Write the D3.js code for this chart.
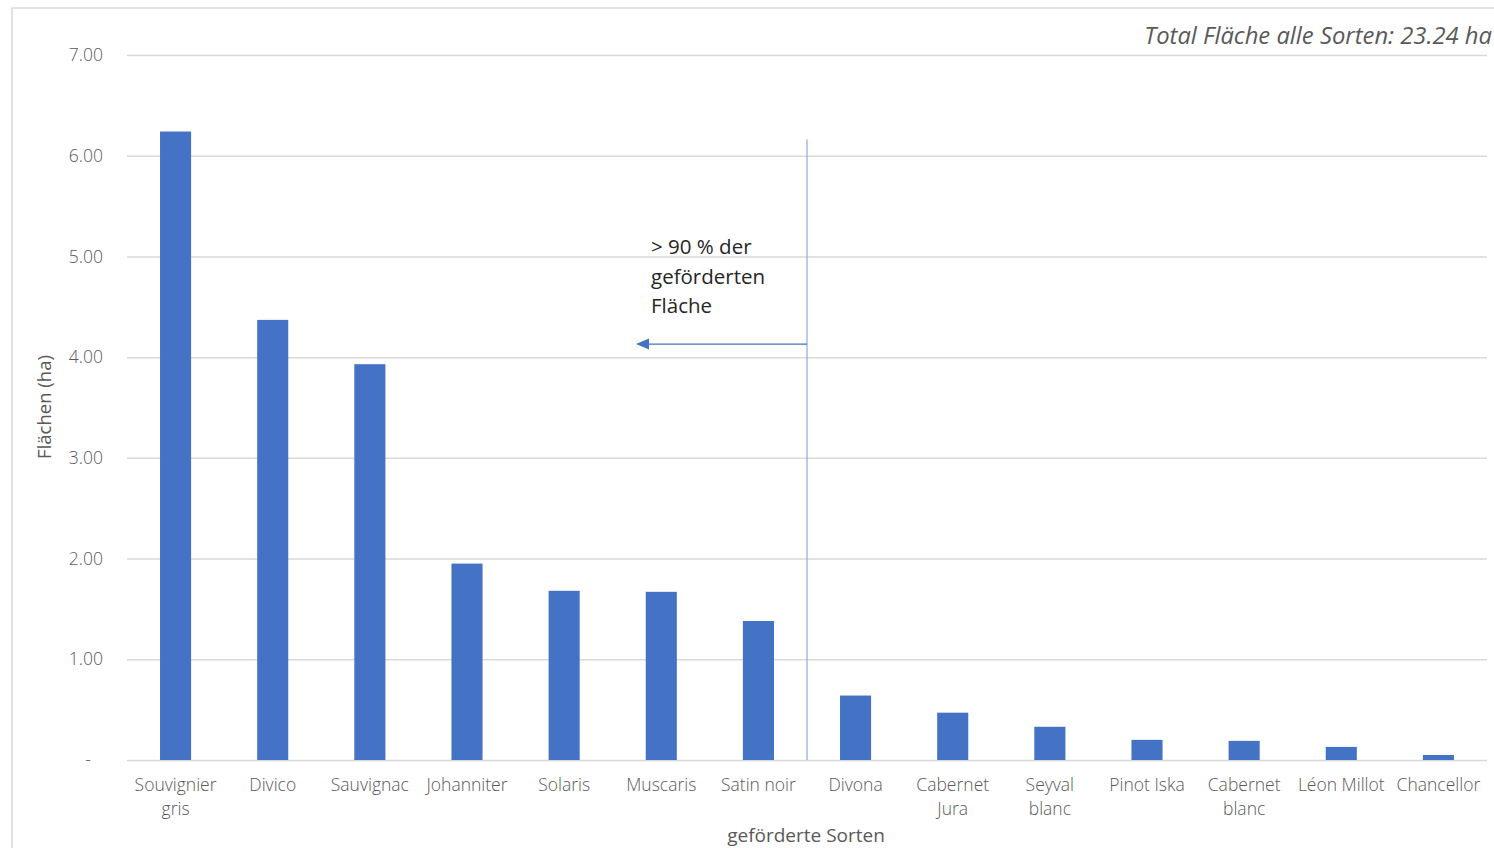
<!DOCTYPE html>
<html><head><meta charset="utf-8">
<script src="https://cdn.jsdelivr.net/npm/d3@7"></script>
<style>body{margin:0;background:#fff}svg{display:block}</style>
</head><body>
<svg id="c" width="1494" height="848"></svg>
<script>
const categories = [["Souvignier","gris"],["Divico"],["Sauvignac"],["Johanniter"],["Solaris"],["Muscaris"],["Satin noir"],["Divona"],["Cabernet","Jura"],["Seyval","blanc"],["Pinot Iska"],["Cabernet","blanc"],["Léon Millot"],["Chancellor"]];
const values = [6.24,4.37,3.93,1.95,1.68,1.67,1.38,0.64,0.47,0.33,0.20,0.19,0.13,0.05];
const yTicks = [0,1,2,3,4,5,6,7];
const totalLabel = "Total Fläche alle Sorten: 23.24 ha";
const annotationLines = ["> 90 % der","geförderten","Fläche"];
const splitIndex = 7;

const svg = d3.select("#c");
const font = "'Open Sans', 'Liberation Sans', sans-serif";
const L = 127, R = 1487, T = 55, B = 760;
const keys = categories.map(c => c.join(" "));
const x = d3.scaleBand().domain(keys).range([L, R]).paddingInner(0.68).paddingOuter(0.34);
const y = d3.scaleLinear().domain([0, 7]).range([B, T]);

// frame
svg.append("rect").attr("x",12).attr("y",8).attr("width",1500).attr("height",900)
  .attr("fill","none").attr("stroke","#d9d9d9").attr("stroke-width",1.5);

// grid
const gy = svg.append("g").attr("transform",`translate(${L},0)`)
  .call(d3.axisLeft(y).tickValues(yTicks).tickSize(-(R-L)).tickPadding(24)
    .tickFormat(d => d === 0 ? "-" : d3.format(".2f")(d)));
gy.select(".domain").remove();
gy.selectAll(".tick line").attr("stroke","#d9d9d9").attr("stroke-width",1.5);
gy.selectAll(".tick text").attr("fill","#595959").style("font-family",font).style("font-size","17.5px").attr("font-weight",300);
gy.selectAll(".tick").filter(d => d === 0).select("text").attr("dx",-12);

// bars
svg.append("g").selectAll("rect").data(values).join("rect")
  .attr("x",(d,i)=>x(keys[i])).attr("width",x.bandwidth())
  .attr("y",d=>y(d)).attr("height",d=>B-y(d)).attr("fill","#4472c4");

// x axis labels
const gx = svg.append("g").attr("transform",`translate(0,${B})`)
  .call(d3.axisBottom(x).tickSize(0).tickPadding(0).tickFormat(""));
gx.select(".domain").remove();
gx.selectAll(".tick").each(function(d,i){
  const t = d3.select(this).append("text").attr("fill","#595959").attr("text-anchor","middle")
    .style("font-family",font).style("font-size","17.5px").attr("font-weight",300);
  categories[i].forEach((line,j)=>t.append("tspan").attr("x",0).attr("y",31+j*24).text(line));
});

// axis titles
svg.append("text").attr("x",806).attr("y",842).attr("text-anchor","middle").attr("fill","#595959")
  .style("font-family",font).style("font-size","19px").text("geförderte Sorten");
svg.append("text").attr("transform","translate(51,407) rotate(-90)").attr("text-anchor","middle").attr("fill","#595959")
  .style("font-family",font).style("font-size","18.5px").text("Flächen (ha)");

// total label
svg.append("text").attr("x",1492).attr("y",44).attr("text-anchor","end").attr("fill","#595959")
  .style("font-family",font).style("font-size","23.8px").style("font-style","italic").text(totalLabel);

// split line
const sx = (x(keys[splitIndex-1]) + x.bandwidth() + x(keys[splitIndex]))/2;
svg.append("line").attr("x1",sx).attr("x2",sx).attr("y1",y(6.16)).attr("y2",B)
  .attr("stroke","#8eaadb").attr("stroke-width",1.2);
const ay = y(4.13), tipX = sx - 171;
svg.append("line").attr("x1",sx).attr("x2",tipX+10).attr("y1",ay).attr("y2",ay)
  .attr("stroke","#4472c4").attr("stroke-width",1.3);
svg.append("path").attr("d",`M${tipX},${ay} L${tipX+13},${ay-5.5} L${tipX+13},${ay+5.5} Z`).attr("fill","#4472c4");

// annotation
const at = svg.append("text").attr("fill","#262626").style("font-family",font).style("font-size","20.5px");
annotationLines.forEach((l,i)=>at.append("tspan").attr("x",651).attr("y",254+i*29.5).text(l));
</script>
</body></html>
